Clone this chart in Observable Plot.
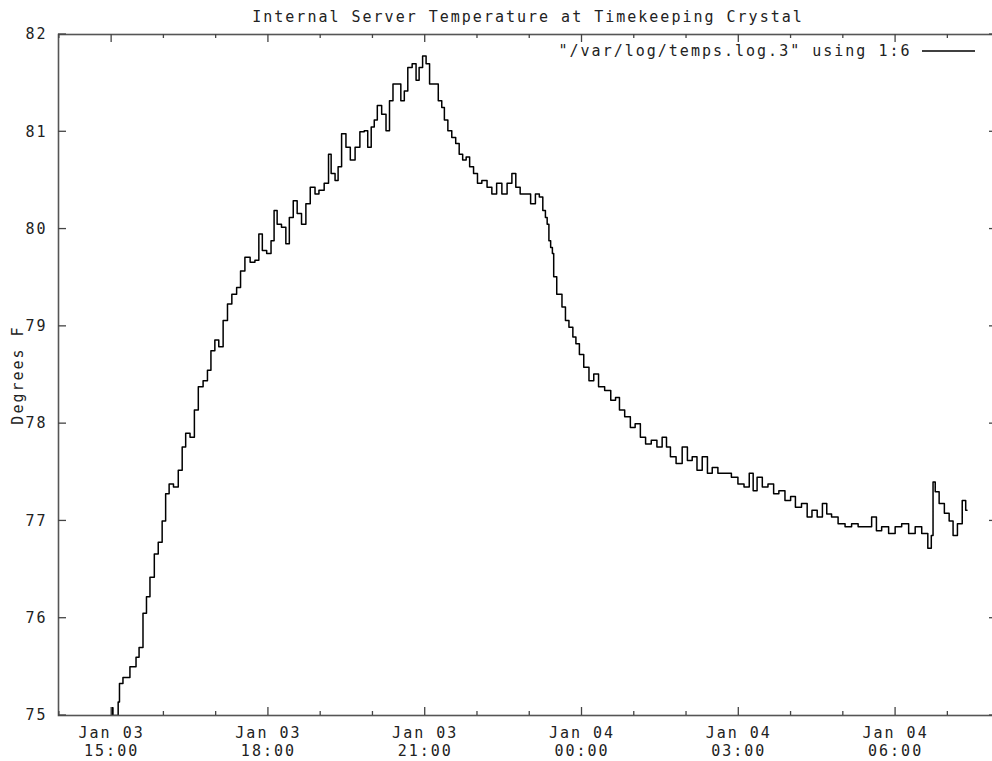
<!DOCTYPE html>
<html><head><meta charset="utf-8">
<script src="https://cdn.jsdelivr.net/npm/d3@7"></script>
<script src="https://cdn.jsdelivr.net/npm/@observablehq/plot@0.6"></script>
<style>
html,body{margin:0;padding:0;background:#fff;overflow:hidden;width:992px;height:761px;}
#chart svg{display:block;max-width:none !important;}
</style></head><body><div id="chart"></div>
<script>
const titleText = "Internal Server Temperature at Timekeeping Crystal";
const yLabel = "Degrees F";
const seriesLabel = '"/var/log/temps.log.3" using 1:6';

const times = [
"2007-01-03T15:00Z","2007-01-03T15:01Z","2007-01-03T15:02Z","2007-01-03T15:07Z","2007-01-03T15:08Z","2007-01-03T15:10Z","2007-01-03T15:16Z","2007-01-03T15:26Z","2007-01-03T15:30Z","2007-01-03T15:33Z",
"2007-01-03T15:39Z","2007-01-03T15:41Z","2007-01-03T15:47Z","2007-01-03T15:51Z","2007-01-03T15:56Z","2007-01-03T16:00Z","2007-01-03T16:04Z","2007-01-03T16:08Z","2007-01-03T16:14Z","2007-01-03T16:19Z",
"2007-01-03T16:23Z","2007-01-03T16:27Z","2007-01-03T16:33Z","2007-01-03T16:37Z","2007-01-03T16:42Z","2007-01-03T16:48Z","2007-01-03T16:52Z","2007-01-03T16:56Z","2007-01-03T17:01Z","2007-01-03T17:05Z",
"2007-01-03T17:11Z","2007-01-03T17:15Z","2007-01-03T17:21Z","2007-01-03T17:26Z","2007-01-03T17:30Z","2007-01-03T17:36Z","2007-01-03T17:42Z","2007-01-03T17:47Z","2007-01-03T17:51Z","2007-01-03T17:55Z",
"2007-01-03T18:01Z","2007-01-03T18:05Z","2007-01-03T18:08Z","2007-01-03T18:12Z","2007-01-03T18:18Z","2007-01-03T18:22Z","2007-01-03T18:26Z","2007-01-03T18:31Z","2007-01-03T18:35Z","2007-01-03T18:41Z",
"2007-01-03T18:45Z","2007-01-03T18:51Z","2007-01-03T18:56Z","2007-01-03T19:00Z","2007-01-03T19:08Z","2007-01-03T19:10Z","2007-01-03T19:14Z","2007-01-03T19:19Z","2007-01-03T19:21Z","2007-01-03T19:27Z",
"2007-01-03T19:31Z","2007-01-03T19:37Z","2007-01-03T19:42Z","2007-01-03T19:48Z","2007-01-03T19:52Z","2007-01-03T19:56Z","2007-01-03T20:00Z","2007-01-03T20:03Z","2007-01-03T20:07Z","2007-01-03T20:13Z",
"2007-01-03T20:17Z","2007-01-03T20:21Z","2007-01-03T20:25Z","2007-01-03T20:30Z","2007-01-03T20:34Z","2007-01-03T20:38Z","2007-01-03T20:42Z","2007-01-03T20:48Z","2007-01-03T20:51Z","2007-01-03T20:55Z",
"2007-01-03T20:59Z","2007-01-03T21:03Z","2007-01-03T21:07Z","2007-01-03T21:12Z","2007-01-03T21:18Z","2007-01-03T21:20Z","2007-01-03T21:24Z","2007-01-03T21:28Z","2007-01-03T21:33Z","2007-01-03T21:37Z",
"2007-01-03T21:41Z","2007-01-03T21:45Z","2007-01-03T21:49Z","2007-01-03T21:53Z","2007-01-03T21:58Z","2007-01-03T22:02Z","2007-01-03T22:08Z","2007-01-03T22:14Z","2007-01-03T22:19Z","2007-01-03T22:25Z",
"2007-01-03T22:31Z","2007-01-03T22:37Z","2007-01-03T22:42Z","2007-01-03T22:46Z","2007-01-03T22:52Z","2007-01-03T22:58Z","2007-01-03T23:04Z","2007-01-03T23:09Z","2007-01-03T23:13Z","2007-01-03T23:17Z",
"2007-01-03T23:19Z","2007-01-03T23:21Z","2007-01-03T23:23Z","2007-01-03T23:25Z","2007-01-03T23:27Z","2007-01-03T23:28Z","2007-01-03T23:34Z","2007-01-03T23:40Z","2007-01-03T23:42Z","2007-01-03T23:48Z",
"2007-01-03T23:51Z","2007-01-03T23:55Z","2007-01-03T23:59Z","2007-01-04T00:05Z","2007-01-04T00:11Z","2007-01-04T00:16Z","2007-01-04T00:22Z","2007-01-04T00:30Z","2007-01-04T00:36Z","2007-01-04T00:41Z",
"2007-01-04T00:45Z","2007-01-04T00:53Z","2007-01-04T00:58Z","2007-01-04T01:04Z","2007-01-04T01:10Z","2007-01-04T01:16Z","2007-01-04T01:23Z","2007-01-04T01:29Z","2007-01-04T01:35Z","2007-01-04T01:39Z",
"2007-01-04T01:44Z","2007-01-04T01:52Z","2007-01-04T01:58Z","2007-01-04T02:04Z","2007-01-04T02:09Z","2007-01-04T02:15Z","2007-01-04T02:21Z","2007-01-04T02:27Z","2007-01-04T02:32Z","2007-01-04T02:40Z",
"2007-01-04T02:48Z","2007-01-04T02:55Z","2007-01-04T03:03Z","2007-01-04T03:09Z","2007-01-04T03:15Z","2007-01-04T03:18Z","2007-01-04T03:24Z","2007-01-04T03:30Z","2007-01-04T03:37Z","2007-01-04T03:43Z",
"2007-01-04T03:49Z","2007-01-04T03:57Z","2007-01-04T04:02Z","2007-01-04T04:08Z","2007-01-04T04:16Z","2007-01-04T04:21Z","2007-01-04T04:27Z","2007-01-04T04:33Z","2007-01-04T04:39Z","2007-01-04T04:43Z",
"2007-01-04T04:50Z","2007-01-04T04:58Z","2007-01-04T05:06Z","2007-01-04T05:13Z","2007-01-04T05:21Z","2007-01-04T05:29Z","2007-01-04T05:36Z","2007-01-04T05:40Z","2007-01-04T05:48Z","2007-01-04T05:56Z",
"2007-01-04T06:03Z","2007-01-04T06:11Z","2007-01-04T06:19Z","2007-01-04T06:26Z","2007-01-04T06:34Z","2007-01-04T06:40Z","2007-01-04T06:42Z","2007-01-04T06:44Z","2007-01-04T06:47Z","2007-01-04T06:53Z",
"2007-01-04T06:59Z","2007-01-04T07:04Z","2007-01-04T07:08Z","2007-01-04T07:14Z","2007-01-04T07:19Z","2007-01-04T07:22Z"
];
const temps = [
75.00,75.08,75.00,75.00,75.14,75.33,75.39,75.50,75.60,75.70,
76.05,76.22,76.42,76.66,76.78,77.00,77.28,77.38,77.35,77.52,
77.76,77.90,77.86,78.14,78.38,78.44,78.55,78.75,78.86,78.79,
79.06,79.23,79.33,79.40,79.57,79.71,79.66,79.68,79.95,79.78,
79.75,79.88,80.19,80.05,80.02,79.85,80.12,80.29,80.16,80.05,
80.26,80.43,80.36,80.40,80.47,80.77,80.57,80.50,80.64,80.98,
80.84,80.71,80.84,81.00,81.01,80.84,81.05,81.12,81.27,81.18,
81.01,81.32,81.49,81.49,81.32,81.42,81.66,81.70,81.53,81.66,
81.78,81.70,81.49,81.49,81.32,81.25,81.12,81.01,80.94,80.88,
80.77,80.71,80.74,80.64,80.57,80.47,80.50,80.43,80.36,80.47,
80.36,80.47,80.57,80.43,80.36,80.36,80.26,80.36,80.33,80.19,
80.12,80.05,79.88,79.81,79.75,79.51,79.33,79.20,79.06,78.99,
78.89,78.82,78.71,78.58,78.44,78.51,78.38,78.34,78.24,78.27,
78.14,78.07,77.96,78.00,77.86,77.79,77.83,77.76,77.86,77.76,
77.66,77.59,77.76,77.62,77.66,77.52,77.66,77.49,77.55,77.49,
77.49,77.45,77.38,77.35,77.49,77.31,77.45,77.35,77.38,77.28,
77.31,77.21,77.25,77.14,77.18,77.04,77.11,77.04,77.18,77.07,
77.04,76.97,76.94,76.97,76.94,76.94,77.04,76.90,76.94,76.87,
76.94,76.97,76.87,76.94,76.87,76.72,76.85,77.40,77.30,77.18,
77.08,77.00,76.85,76.97,77.21,77.11
];

const yTicks = [75, 76, 77, 78, 79, 80, 81, 82];
const xMajorTicks = ["2007-01-03T15:00Z","2007-01-03T18:00Z","2007-01-03T21:00Z","2007-01-04T00:00Z","2007-01-04T03:00Z","2007-01-04T06:00Z"];
const xDomain = ["2007-01-03T13:59Z", "2007-01-04T07:57Z"];
const yDomain = [75, 82];

const data = times.map((t, i) => ({time: new Date(t), temp: temps[i]}));
const majorDates = xMajorTicks.map(t => new Date(t));
const domainDates = xDomain.map(t => new Date(t));
const minorDates = d3.utcHour.range(domainDates[0], domainDates[1]);

const fmtDay = d3.utcFormat("%b %d");
const fmtTime = d3.utcFormat("%H:%M");

const W = 998, H = 761;
const FONT = "'DejaVu Sans Mono', monospace";
const chart = Plot.plot({
  width: W,
  height: H,
  marginLeft: 58,
  marginRight: 1,
  marginTop: 34,
  marginBottom: 46,
  style: {fontFamily: FONT, fontSize: "15px", color: "#222", background: "#fff", letterSpacing: "2px"},
  x: {type: "utc", domain: domainDates},
  y: {domain: yDomain},
  marks: [
    Plot.line(data, {x: "time", y: "temp", stroke: "#000", strokeWidth: 1.5, curve: "step", clip: true}),
    Plot.frame({stroke: "#555", strokeWidth: 1.6}),
    Plot.axisX({ticks: majorDates, tickSize: 0, tickPadding: 10, lineHeight: 1.2, label: null,
      tickFormat: d => fmtDay(d) + "\n" + fmtTime(d), fill: "#222"}),
    Plot.axisY({ticks: yTicks, tickSize: 0, tickPadding: 11, label: null, tickFormat: d => String(d), fill: "#222"}),
    Plot.text([titleText], {frameAnchor: "top", lineAnchor: "middle", dy: -17, fontSize: 15, fill: "#222"}),
    Plot.text([yLabel], {frameAnchor: "left", textAnchor: "middle", lineAnchor: "middle", rotate: -90, dx: -40, fontSize: 15, fill: "#222"}),
    Plot.text([seriesLabel], {frameAnchor: "top-right", textAnchor: "end", lineAnchor: "middle", dx: -86, dy: 17, fontSize: 15, fill: "#222"})
  ]
});

// gnuplot-style inward ticks on all four sides, placed with the plot's own scales
const sx = chart.scale("x"), sy = chart.scale("y");
const svgSel = d3.select(chart);
const frameTop = 34, frameBottom = H - 46, frameLeft = 58, frameRight = W - 1;
const tickG = svgSel.append("g").attr("stroke", "#444").attr("stroke-width", 1.3);
const isMajor = d => majorDates.some(m => +m === +d);
for (const d of minorDates) {
  const px = sx.apply(d);
  const len = isMajor(d) ? 8 : 4;
  tickG.append("line").attr("x1", px).attr("x2", px).attr("y1", frameBottom).attr("y2", frameBottom - len);
  tickG.append("line").attr("x1", px).attr("x2", px).attr("y1", frameTop).attr("y2", frameTop + len);
}
for (const v of yTicks) {
  const py = sy.apply(v);
  tickG.append("line").attr("x1", frameLeft).attr("x2", frameLeft + 8).attr("y1", py).attr("y2", py);
  tickG.append("line").attr("x1", frameRight).attr("x2", frameRight - 8).attr("y1", py).attr("y2", py);
}
// legend line sample next to the key text
svgSel.append("line").attr("x1", frameRight - 75).attr("x2", frameRight - 22).attr("y1", frameTop + 17).attr("y2", frameTop + 17)
  .attr("stroke", "#000").attr("stroke-width", 1.4);

document.getElementById("chart").appendChild(chart);
</script>
</body></html>
